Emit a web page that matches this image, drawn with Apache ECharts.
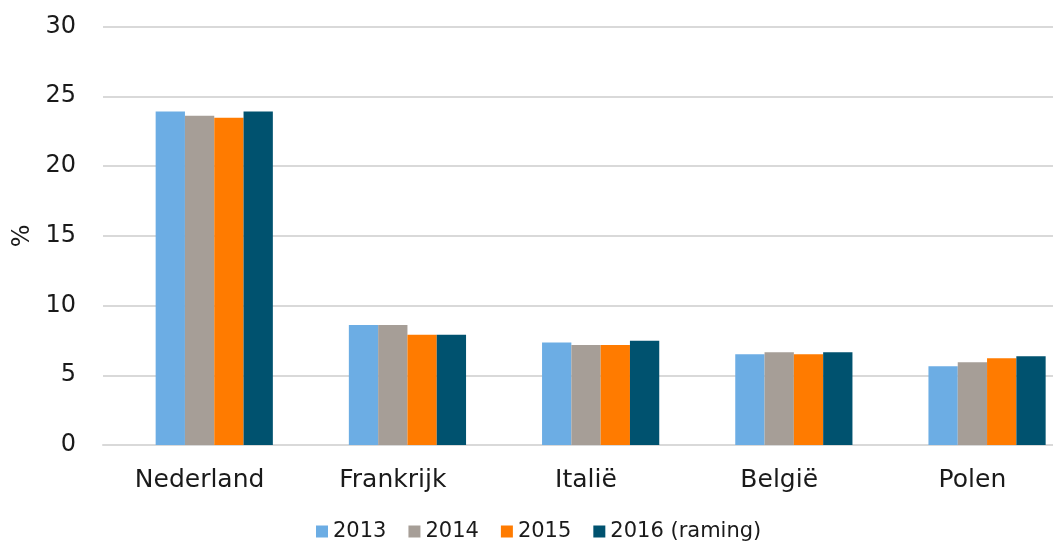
<!DOCTYPE html>
<html>
<head>
<meta charset="utf-8">
<script src="https://cdn.jsdelivr.net/npm/echarts@6/dist/echarts.min.js"></script>
<style>
  html, body { margin: 0; padding: 0; background: #fff; }
  #main { width: 1053px; height: 543px; }
</style>
</head>
<body>
<div id="main"></div>
<script>
// landen en waarden (%)
var categories = ["Nederland", "Frankrijk", "Italië", "België", "Polen"];
var seriesNames = ["2013", "2014", "2015", "2016 (raming)"];
var v2013 = [23.9, 8.6, 7.35, 6.5, 5.65];
var v2014 = [23.6, 8.6, 7.17, 6.64, 5.93];
var v2015 = [23.45, 7.9, 7.17, 6.5, 6.21];
var v2016 = [23.9, 7.9, 7.48, 6.64, 6.36];
var yTicks = [0, 5, 10, 15, 20, 25, 30];

var colors = ["#6CADE4", "#A69E97", "#FF7B00", "#00526F"];
var values = [v2013, v2014, v2015, v2016];

var myChart = echarts.init(document.getElementById("main"));

var series = [
  // lege reeks, schuift de groep naar rechts zoals in het origineel
  { name: "", type: "bar", data: [], barWidth: 29.3, barGap: "0%", silent: true }
];
for (var i = 0; i < seriesNames.length; i++) {
  series.push({
    name: seriesNames[i],
    type: "bar",
    data: values[i],
    barWidth: 29.3,
    barGap: "0%",
    itemStyle: { color: colors[i] },
  });
}

var option = {
  animation: false,
  textStyle: { fontFamily: "DejaVu Sans" },
  grid: { left: 103, top: 26.5, width: 966, bottom: 98, outerBoundsMode: "none" },
  legend: {
    data: seriesNames,
    bottom: -4,
    left: 311,
    icon: "rect",
    itemWidth: 12,
    itemHeight: 12,
    itemGap: 22,
    textStyle: { fontSize: 21, color: "#1a1a1a", fontFamily: "DejaVu Sans" },
  },
  xAxis: {
    type: "category",
    data: categories,
    axisTick: { show: false },
    axisLine: { lineStyle: { color: "#d9d9d9", width: 2 } },
    axisLabel: { fontSize: 25, color: "#1a1a1a", margin: 23 },
  },
  yAxis: {
    type: "value",
    min: yTicks[0],
    max: yTicks[yTicks.length - 1],
    interval: 5,
    name: "%",
    nameLocation: "middle",
    nameGap: 61,
    nameTextStyle: { fontSize: 24, color: "#1a1a1a" },
    axisLine: { show: false },
    axisTick: { show: false },
    axisLabel: { fontSize: 24, color: "#1a1a1a", margin: 27 },
    splitLine: { lineStyle: { color: "#d9d9d9", width: 2 } },
  },
  series: series,
};
myChart.setOption(option);
</script>
</body>
</html>
